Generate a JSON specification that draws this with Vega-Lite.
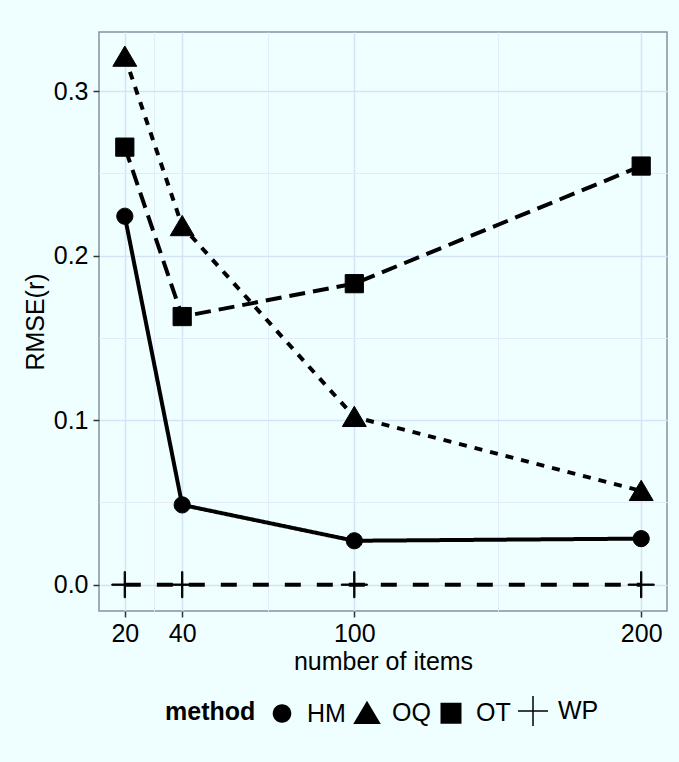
{
  "$schema": "https://vega.github.io/schema/vega-lite/v6.json",
  "autosize": {"type": "none"},
  "width": 568,
  "height": 579,
  "padding": {"left": 99, "top": 32, "right": 12, "bottom": 151},
  "background": "#EFFFFF",
  "config": {
    "font": "Liberation Sans",
    "view": {"stroke": "#8592A3", "strokeWidth": 1.5, "fill": "#EFFFFF"},
    "axis": {"labelFont": "Liberation Sans", "titleFont": "Liberation Sans"},
    "legend": {
      "orient": "none", "legendX": 66, "legendY": 663, "direction": "horizontal",
      "titleOrient": "left", "titleFontSize": 25, "titleFontWeight": "bold", "titleColor": "black", "titlePadding": 10,
      "titleBaseline": "middle",
      "labelFontSize": 25, "labelColor": "black", "labelOffset": 9, "columnPadding": 4, "padding": 0,
      "symbolSize": 900, "symbolStrokeWidth": 1.5, "symbolFillColor": "black", "symbolStrokeColor": "black"
    }
  },
  "data": {
    "values": [
      {"n": 20, "method": "HM", "rmse": 0.224},
      {"n": 40, "method": "HM", "rmse": 0.0485},
      {"n": 100, "method": "HM", "rmse": 0.0267},
      {"n": 200, "method": "HM", "rmse": 0.028},
      {"n": 20, "method": "OQ", "rmse": 0.321},
      {"n": 40, "method": "OQ", "rmse": 0.218},
      {"n": 100, "method": "OQ", "rmse": 0.102},
      {"n": 200, "method": "OQ", "rmse": 0.057},
      {"n": 20, "method": "OT", "rmse": 0.266},
      {"n": 40, "method": "OT", "rmse": 0.163},
      {"n": 100, "method": "OT", "rmse": 0.183},
      {"n": 200, "method": "OT", "rmse": 0.2545},
      {"n": 20, "method": "WP", "rmse": 0.0},
      {"n": 40, "method": "WP", "rmse": 0.0},
      {"n": 100, "method": "WP", "rmse": 0.0},
      {"n": 200, "method": "WP", "rmse": 0.0}
    ]
  },
  "resolve": {"axis": {"x": "independent", "y": "independent"}},
  "layer": [
    {
      "mark": {"type": "point", "opacity": 0},
      "encoding": {
        "x": {"field": "n", "type": "quantitative", "scale": {"domain": [11, 209], "nice": false, "zero": false},
          "axis": {"orient": "bottom", "values": [30, 70, 150], "grid": true, "gridColor": "#E3ECF8", "gridWidth": 1, "ticks": false, "labels": false, "domain": false, "title": null}},
        "y": {"field": "rmse", "type": "quantitative", "scale": {"domain": [-0.016, 0.336], "nice": false, "zero": false},
          "axis": {"orient": "left", "values": [0.05, 0.15, 0.25], "grid": true, "gridColor": "#E3ECF8", "gridWidth": 1, "ticks": false, "labels": false, "domain": false, "title": null}}
      }
    },
    {
      "mark": {"type": "line", "strokeWidth": 4, "strokeCap": "butt", "color": "black"},
      "encoding": {
        "x": {"field": "n", "type": "quantitative",
          "axis": {"orient": "bottom", "values": [20, 40, 100, 200], "grid": true, "gridColor": "#D5E3F6", "gridWidth": 1.5, "domain": false, "tickColor": "#333333", "tickWidth": 1.5, "tickSize": 6, "labelPadding": 4, "labelFontSize": 25, "labelColor": "black", "title": "number of items", "titleFontSize": 25, "titleFontWeight": "normal", "titleColor": "black", "titlePadding": 3}},
        "y": {"field": "rmse", "type": "quantitative",
          "axis": {"orient": "left", "values": [0, 0.1, 0.2, 0.3], "format": ".1f", "grid": true, "gridColor": "#D5E3F6", "gridWidth": 1.5, "domain": false, "tickColor": "#333333", "tickWidth": 1.5, "tickSize": 6, "labelPadding": 5, "labelFontSize": 25, "labelColor": "black", "title": "RMSE(r)", "titleFontSize": 25, "titleFontWeight": "normal", "titleColor": "black", "titlePadding": 5}},
        "strokeDash": {"field": "method", "type": "nominal", "legend": null,
          "scale": {"domain": ["WP", "OT", "OQ", "HM"], "range": [[16, 16], [16, 8], [8, 8], [1, 0]]}}
      }
    },
    {
      "mark": {"type": "point", "filled": true, "color": "black", "stroke": "black", "strokeWidth": 1, "opacity": 1, "size": 676},
      "encoding": {
        "x": {"field": "n", "type": "quantitative", "axis": null},
        "y": {"field": "rmse", "type": "quantitative", "axis": null},
        "shape": {"field": "method", "type": "nominal", "title": "method",
          "scale": {"domain": ["HM", "OQ", "OT", "WP"], "range": [
            "M0.62,0A0.62,0.62,0,1,1,-0.62,0A0.62,0.62,0,1,1,0.62,0Z",
            "M0,-0.82L0.92,0.74L-0.92,0.74Z",
            "M-0.7,-0.7H0.7V0.7H-0.7Z",
            "M-1,-0.05H1V0.05H-1ZM-0.05,-1H0.05V1H-0.05Z"]},
          "legend": {
            "encode": {
              "symbols": {"update": {
                "fill": {"value": "black"},
                "stroke": {"value": "black"},
                "strokeWidth": {"value": 1.5},
                "opacity": {"value": 1}
              }}
            }
          }}
      }
    }
  ]
}
